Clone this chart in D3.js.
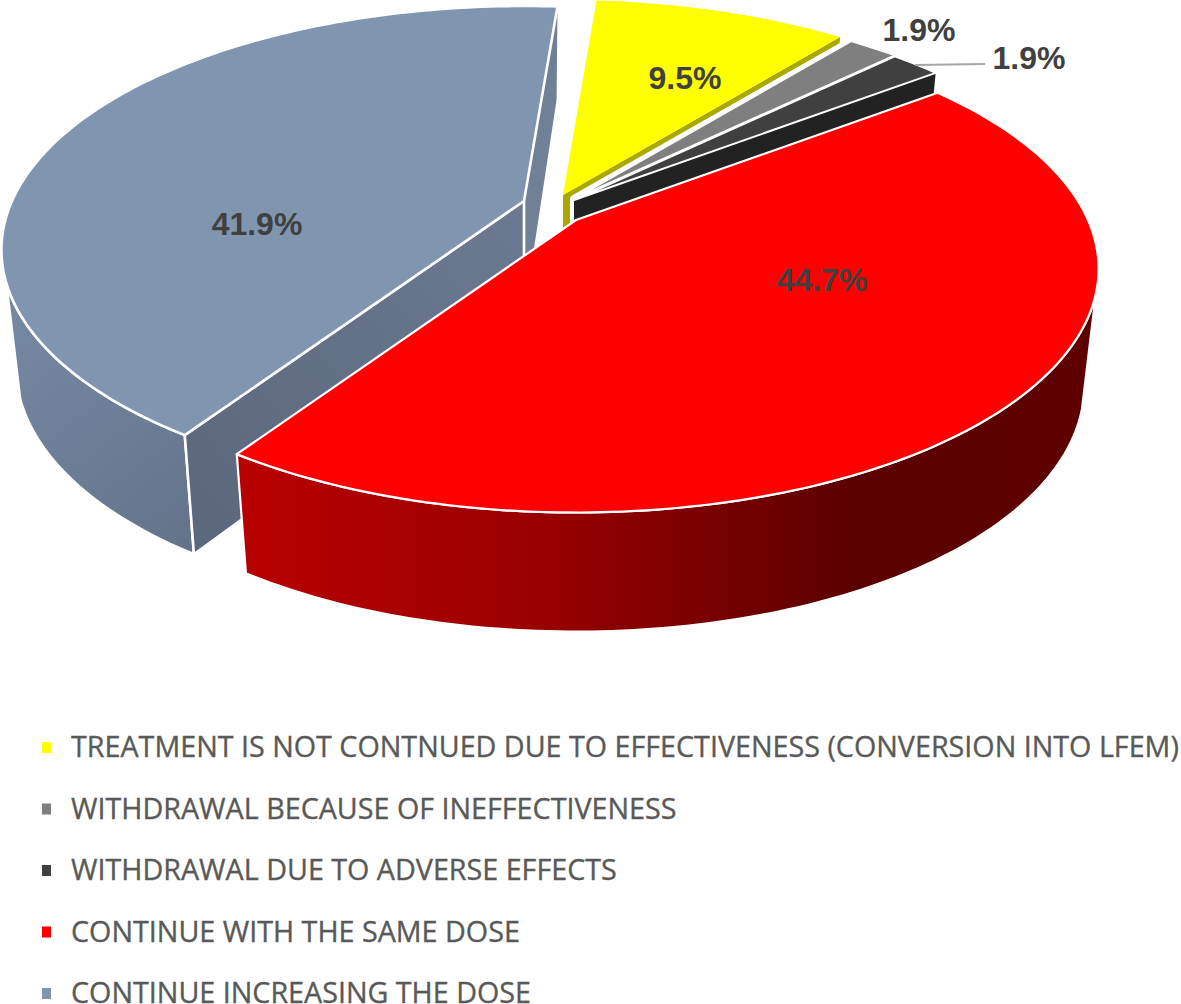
<!DOCTYPE html>
<html><head><meta charset="utf-8">
<script src="https://cdn.jsdelivr.net/npm/d3@7/dist/d3.min.js"></script>
<style>html,body{margin:0;padding:0;background:#fff;overflow:hidden}svg{display:block}</style>
</head><body><svg id="c" width="1181" height="1004"></svg>
<script>
const categories = ["TREATMENT IS NOT CONTNUED DUE TO EFFECTIVENESS (CONVERSION INTO LFEM)","WITHDRAWAL BECAUSE OF INEFFECTIVENESS","WITHDRAWAL DUE TO ADVERSE EFFECTS","CONTINUE WITH THE SAME DOSE","CONTINUE INCREASING THE DOSE"];
const values = [9.5,1.9,1.9,44.7,41.9];
const labels = ["9.5%","1.9%","1.9%","44.7%","41.9%"];
const colors = ["#ffff00","#7f7f7f","#404040","#ff0000","#8096b0"];

const svg = d3.select("#c");
const defs = svg.append("defs");
function grad(id,x1,y1,x2,y2,stops){
  const g = defs.append("linearGradient").attr("id",id).attr("gradientUnits","userSpaceOnUse")
    .attr("x1",x1).attr("y1",y1).attr("x2",x2).attr("y2",y2);
  stops.forEach(s=>g.append("stop").attr("offset",s[0]).attr("stop-color",s[1]));
}
grad("redWall",240,0,1090,0,[[0,"#b80000"],[0.35,"#9a0000"],[0.72,"#5c0000"],[1,"#5e0000"]]);
grad("blueWall",0,300,190,540,[[0,"#7689a3"],[0.5,"#6d7f98"],[1,"#63738a"]]);
grad("blueFace",190,540,522,250,[[0,"#5a677c"],[1,"#6a7990"]]);

// perspective view of the pie
const R=512, RS=234, K=0.2, LOWER=0.973;
const rad=d=>d*Math.PI/180;
const pie=d3.pie().sort(null).startAngle(rad(4.5)).endAngle(rad(364.5));
const arcs=pie(values);
const apex=[[563,195],[574,199],[574,200],[576,220],[524,201]];
function proj(a,c,low){
  const u=Math.sin(a), v=-Math.cos(a), w=1-K*v;
  let x=R*u/w, y=RS*v/w;
  if(low){ x*=LOWER; y=y*LOWER+113+19.5*v-5.5*v*v; }
  return [c[0]+x,c[1]+y];
}
const sample=(a0,a1,c,low)=>{
  const n=Math.max(2,Math.ceil(Math.abs(a1-a0)/rad(1)));
  return d3.range(n+1).map(i=>proj(a0+(a1-a0)*i/n,c,low));
};
const apexLow=c=>[c[0],c[1]+113];
const line=d3.line().curve(d3.curveLinear);
const poly=p=>line(p)+"Z";
const topFace=i=>poly([apex[i],...sample(arcs[i].startAngle,arcs[i].endAngle,apex[i],false)]);
const face=(i,a)=>poly([apex[i],proj(a,apex[i],false),proj(a,apex[i],true),apexLow(apex[i])]);
const wall=(i,a0,a1)=>poly([...sample(a0,a1,apex[i],false),...sample(a1,a0,apex[i],true)]);
const gp=svg.append("g").attr("stroke-linejoin","round");
const draw=(d,fill,sw=2.2,st="#fff")=>gp.append("path").attr("d",d).attr("fill",fill).attr("stroke",st).attr("stroke-width",sw);

// blue slice
draw(face(4,arcs[4].endAngle),"#6f8097",0,"none");
draw(wall(4,arcs[4].startAngle,rad(251)),"url(#blueWall)",2.6);
draw(face(4,arcs[4].startAngle),"url(#blueFace)",2.6);
draw(topFace(4),colors[4],2.6);
// yellow slice
draw(face(0,arcs[0].endAngle),"#a8a800",0,"none");
draw(topFace(0),colors[0],0,"none");
// gap beside the thin slices
draw(poly([apex[1],...sample(arcs[1].startAngle,arcs[2].endAngle,apex[1],false),proj(arcs[2].endAngle,apex[2],true),apexLow(apex[2])]),"#fff",8);
// grey and black
draw(face(2,arcs[2].endAngle),"#222222",0,"none");
draw(topFace(1),colors[1],2);
draw(topFace(2),colors[2],2);
// red slice
draw(wall(3,rad(107),arcs[3].endAngle),"url(#redWall)",2.2);
draw(topFace(3),colors[3],2.2);

// leader line
svg.append("line").attr("x1",915).attr("y1",65).attr("x2",985).attr("y2",64).attr("stroke","#a6a6a6").attr("stroke-width",2);

// value labels
const labelPos=[[685,78],[919,30],[1029,58],[822,280],[257,224]];
svg.append("g").selectAll("text").data(labels).join("text")
  .attr("x",(d,i)=>labelPos[i][0]).attr("y",(d,i)=>labelPos[i][1]+11)
  .attr("text-anchor","middle")
  .attr("font-family","'Liberation Sans',Arial,sans-serif").attr("font-weight","bold")
  .attr("font-size",32).attr("fill","#404040").text(d=>d);

// legend
const yL=d3.scalePoint().domain(categories).range([757,1003]);
const lg=svg.append("g");
lg.selectAll("rect").data(categories).join("rect")
  .attr("x",42).attr("y",d=>yL(d)-15).attr("width",9).attr("height",11)
  .attr("fill",(d,i)=>colors[i]);
lg.selectAll("text").data(categories).join("text")
  .attr("x",71).attr("y",d=>yL(d))
  .attr("font-family","'Open Sans',sans-serif").attr("font-size",28.7)
  .attr("fill","#595959").attr("stroke","#595959").attr("stroke-width",0.35).text(d=>d);
</script></body></html>
